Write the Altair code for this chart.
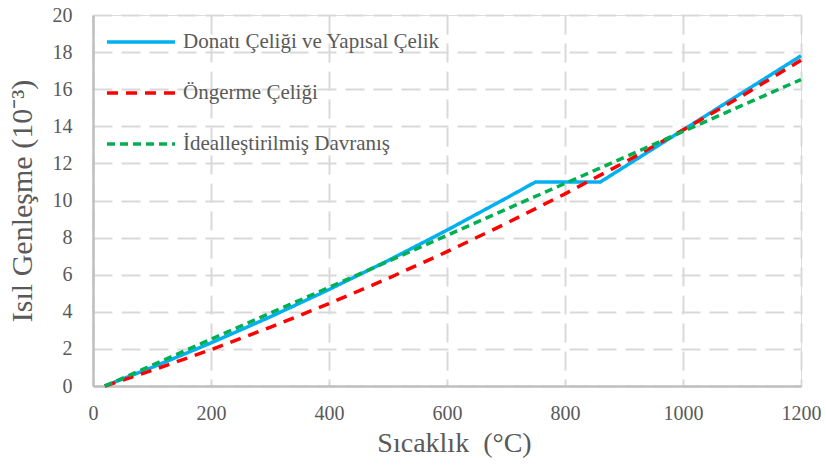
import altair as alt
import pandas as pd

series_names = ["Donatı Çeliği ve Yapısal Çelik", "Öngerme Çeliği", "İdealleştirilmiş Davranış"]
series_colors = ["#00B0F0", "#FF0000", "#00B050"]
series_dashes = [[1, 0], [11, 8], [8, 5]]

rebar_temp = [20, 100, 200, 300, 400, 500, 600, 700, 750, 860, 900, 1000, 1100, 1200]
rebar_strain = [0.0, 1.0, 2.32, 3.72, 5.2, 6.76, 8.4, 10.12, 11.0, 11.0, 11.8, 13.8, 15.8, 17.8]

prestress_temp = [20, 100, 200, 300, 400, 500, 600, 700, 800, 900, 1000, 1100, 1200]
prestress_strain = [0.0, 0.84, 1.96, 3.16, 4.44, 5.8, 7.24, 8.76, 10.36, 12.04, 13.8, 15.64, 17.56]

ideal_temp = [20, 200, 400, 600, 800, 1000, 1200]
ideal_strain = [0.0, 2.52, 5.32, 8.12, 10.92, 13.72, 16.52]

x_ticks = [0, 200, 400, 600, 800, 1000, 1200]
y_ticks = [0, 2, 4, 6, 8, 10, 12, 14, 16, 18, 20]

rows = []
for name, temps, vals in zip(series_names,
                             [rebar_temp, prestress_temp, ideal_temp],
                             [rebar_strain, prestress_strain, ideal_strain]):
    for i, (t, v) in enumerate(zip(temps, vals)):
        rows.append({"series": name, "temp": t, "strain": v, "idx": i})
df = pd.DataFrame(rows)

FONT = "'Liberation Serif', 'Times New Roman', serif"
TXT = "#595959"

legend = alt.Legend(
    orient="none", legendX=26, legendY=5, title=None,
    symbolType="M-1.7,0H1.7", symbolSize=1600, symbolStrokeWidth=3.5,
    labelFont=FONT, labelFontSize=21, labelColor=TXT, labelOffset=20,
    rowPadding=19, padding=0, offset=0, labelLimit=500,
)

chart = alt.Chart(df).mark_line(strokeWidth=3.5).encode(
    x=alt.X("temp:Q",
            scale=alt.Scale(domain=[0, 1200], nice=False, zero=False),
            axis=alt.Axis(values=x_ticks, format="d", title="Sıcaklık \u00a0(°C)", grid=True,
                          gridColor="#D9D9D9", gridWidth=2, gridDash=[19, 9],
                          domainColor="#BFBFBF", domainWidth=2.5,
                          ticks=False, tickSize=0, labelFlush=False,
                          labelFont=FONT, labelFontSize=20, labelColor=TXT, labelPadding=17,
                          titleFont=FONT, titleFontSize=28, titleColor=TXT, titleFontWeight="normal",
                          titleX=361, titleY=65, titleBaseline="alphabetic", titleAlign="center")),
    y=alt.Y("strain:Q",
            scale=alt.Scale(domain=[0, 20], nice=False),
            axis=alt.Axis(values=y_ticks, format="d", title="Isıl Genleşme (10⁻³)", grid=True,
                          gridColor="#D9D9D9", gridWidth=2, gridDash=[19, 9],
                          domainColor="#BFBFBF", domainWidth=2.5,
                          ticks=False, tickSize=0, labelFlush=False,
                          labelFont=FONT, labelFontSize=20, labelColor=TXT, labelPadding=21,
                          titleFont=FONT, titleFontSize=30, titleColor=TXT, titleFontWeight="normal",
                          titleX=-71, titleY=185.5, titleAngle=270, titleBaseline="middle",
                          titleAlign="center")),
    color=alt.Color("series:N", sort=series_names,
                    scale=alt.Scale(domain=series_names, range=series_colors), legend=legend),
    strokeDash=alt.StrokeDash("series:N", sort=series_names,
                              scale=alt.Scale(domain=series_names, range=series_dashes), legend=legend),
    order=alt.Order("idx:Q"),
).properties(
    width=708, height=371,
    autosize=alt.AutoSizeParams(type="none"),
    padding={"left": 93, "top": 15, "right": 25, "bottom": 89},
).configure_view(
    stroke="#D9D9D9", strokeWidth=2
).configure(background="white")

chart.save("out.html", embed_options={"renderer": "svg", "actions": False})
